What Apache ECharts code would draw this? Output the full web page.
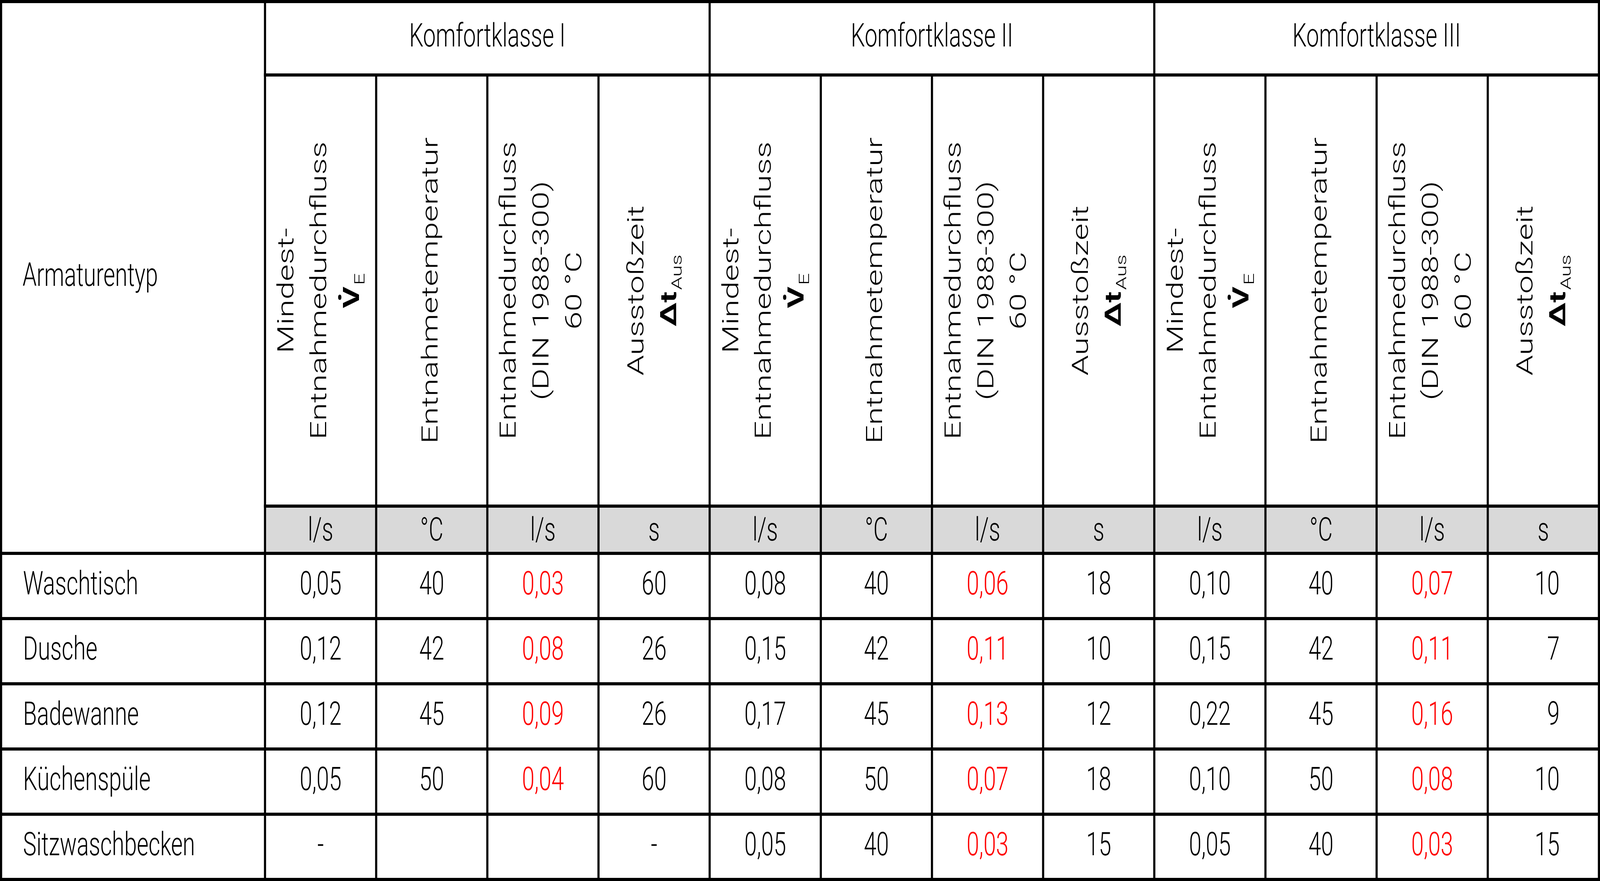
<!DOCTYPE html>
<html>
<head>
<meta charset="utf-8">
<script src="https://cdn.jsdelivr.net/npm/echarts@6/dist/echarts.min.js"></script>
<style>
html, body { margin: 0; padding: 0; background: #fff; overflow: hidden; }
#chart { width: 100vw; height: 100vh; }
</style>
</head>
<body>
<div id="chart"></div>
<script>
// ---- table content ----
var fixtures = ['Waschtisch', 'Dusche', 'Badewanne', 'Küchenspüle', 'Sitzwaschbecken'];
var classes = ['Komfortklasse I', 'Komfortklasse II', 'Komfortklasse III'];
var units = ['l/s', '°C', 'l/s', 's'];
var firstHeader = 'Armaturentyp';

// Komfortklasse I
var minFlowI = [0.05, 0.12, 0.12, 0.05, '-'];
var tempI = [40, 42, 45, 50, null];
var flow60I = [0.03, 0.08, 0.09, 0.04, null];
var timeI = [60, 26, 26, 60, '-'];
// Komfortklasse II
var minFlowII = [0.08, 0.15, 0.17, 0.08, 0.05];
var tempII = [40, 42, 45, 50, 40];
var flow60II = [0.06, 0.11, 0.13, 0.07, 0.03];
var timeII = [18, 10, 12, 18, 15];
// Komfortklasse III
var minFlowIII = [0.10, 0.15, 0.22, 0.10, 0.05];
var tempIII = [40, 42, 45, 50, 40];
var flow60III = [0.07, 0.11, 0.16, 0.08, 0.03];
var timeIII = [10, 7, 9, 10, 15];

// rotated column headers (rich text tokens)
var colHeaders = [
    '{n|Mindest-}\n{n|Entnahmedurchfluss}\n{b|V\u0307}{s|E}',
    '{n|Entnahmetemperatur}',
    '{n|Entnahmedurchfluss}\n{n|(DIN 1988-300)}\n{n|60 °C}',
    '{n|Ausstoßzeit}\n{b|Δt}{s|Aus}'
];

// ---- layout (design units, 5959 x 2256) ----
var W = 5959, H = 2256;
var SUB_W = 414;
var colX = [4, 987];
for (var i = 1; i <= 12; i++) colX.push(987 + SUB_W * i);
var rowY = [4, 192, 1296, 1417, 1584, 1751, 1918, 2085, 2252];
var HALF_LINE = 4;

var FONT = 'Roboto, "Open Sans", "Liberation Sans", sans-serif';
var FS = 84;

function fmt(v, decimals) {
    if (v === null || v === undefined) return '';
    if (typeof v === 'string') return v;
    return decimals ? v.toFixed(decimals).replace('.', ',') : String(v);
}

var classData = [
    [minFlowI, tempI, flow60I, timeI],
    [minFlowII, tempII, flow60II, timeII],
    [minFlowIII, tempIII, flow60III, timeIII]
];
var decimals = [2, 0, 2, 0];

// ---- cells ----
var cells = [];
cells.push({x: colX[0] + 80, y: (rowY[0] + rowY[3]) / 2, text: firstHeader, align: 'left'});
classes.forEach(function (name, k) {
    cells.push({x: (colX[1 + 4 * k] + colX[5 + 4 * k]) / 2, y: (rowY[0] + rowY[1]) / 2, text: name});
    for (var j = 0; j < 4; j++) {
        var c = 1 + 4 * k + j;
        var cx = (colX[c] + colX[c + 1]) / 2;
        cells.push({x: cx, y: (rowY[1] + rowY[2]) / 2, text: colHeaders[j], rotate: true});
        cells.push({x: cx, y: (rowY[2] + rowY[3]) / 2 + 6, text: units[j]});
        classData[k][j].forEach(function (v, r) {
            var last = (k === 2 && j === 3);
            cells.push({
                x: last ? colX[c + 1] - 146 : cx,
                y: (rowY[3 + r] + rowY[4 + r]) / 2,
                text: fmt(v, decimals[j]),
                align: last ? 'right' : 'center',
                color: j === 2 ? '#ff0000' : '#000'
            });
        });
    }
});
fixtures.forEach(function (f, r) {
    cells.push({x: colX[0] + 82, y: (rowY[3 + r] + rowY[4 + r]) / 2, text: f, align: 'left'});
});

// ---- grid lines ----
var lines = [];
lines.push([colX[0], rowY[0], colX[13], rowY[0]]);
lines.push([colX[1], rowY[1], colX[13], rowY[1]]);
lines.push([colX[1], rowY[2], colX[13], rowY[2]]);
for (var r = 3; r < rowY.length; r++) lines.push([colX[0], rowY[r], colX[13], rowY[r]]);
for (var c = 0; c < colX.length; c++) {
    var group = (c <= 1) || ((c - 1) % 4 === 0);
    lines.push([colX[c], group ? rowY[0] : rowY[1], colX[c], rowY[8]]);
}

// ---- grey unit row ----
var shades = [[colX[1], rowY[2], colX[13], rowY[3]]];

var chart = echarts.init(document.getElementById('chart'));
var sx = chart.getWidth() / W, sy = chart.getHeight() / H;

function rectFrom(api, a, b) {
    var p0 = api.coord(a), p1 = api.coord(b);
    return {x: p0[0], y: p0[1], width: p1[0] - p0[0], height: p1[1] - p0[1]};
}

chart.setOption({
    animation: false,
    backgroundColor: '#ffffff',
    grid: {left: 0, right: 0, top: 0, bottom: 0},
    xAxis: {type: 'value', min: 0, max: W, show: false},
    yAxis: {type: 'value', min: 0, max: H, inverse: true, show: false},
    series: [
        {
            type: 'custom', z: 1, clip: false, silent: true,
            data: shades,
            renderItem: function (params, api) {
                return {type: 'rect',
                    shape: rectFrom(api, [api.value(0), api.value(1)], [api.value(2), api.value(3)]),
                    style: {fill: '#d9d9d9'}};
            }
        },
        {
            type: 'custom', z: 2, clip: false, silent: true,
            data: lines,
            renderItem: function (params, api) {
                return {type: 'rect',
                    shape: rectFrom(api,
                        [api.value(0) - HALF_LINE, api.value(1) - HALF_LINE],
                        [api.value(2) + HALF_LINE, api.value(3) + HALF_LINE]),
                    style: {fill: '#000'}};
            }
        },
        {
            type: 'custom', z: 3, clip: false, silent: true,
            data: cells.map(function (c) { return [c.x, c.y]; }),
            renderItem: function (params, api) {
                var c = cells[params.dataIndex];
                var p = api.coord([api.value(0), api.value(1)]);
                var style = {
                    text: c.text,
                    fill: c.color || '#000',
                    fontFamily: FONT,
                    fontSize: FS,
                    fontWeight: 300,
                    align: c.align || 'center',
                    verticalAlign: 'middle'
                };
                if (c.rotate) {
                    style.rich = {
                        n: {fontFamily: FONT, fontSize: FS, fontWeight: 300, lineHeight: 122, fill: '#000'},
                        b: {fontFamily: FONT, fontSize: FS, fontWeight: 'bold', lineHeight: 122, fill: '#000'},
                        s: {fontFamily: FONT, fontSize: 54, fontWeight: 300, lineHeight: 122, fill: '#000',
                            padding: [56, 0, 0, 4]}
                    };
                }
                return {
                    type: 'text', x: p[0], y: p[1],
                    rotation: c.rotate ? Math.PI / 2 : 0,
                    scaleX: c.rotate ? sy : sx,
                    scaleY: c.rotate ? sx : sy,
                    style: style
                };
            }
        }
    ]
});
</script>
</body>
</html>
